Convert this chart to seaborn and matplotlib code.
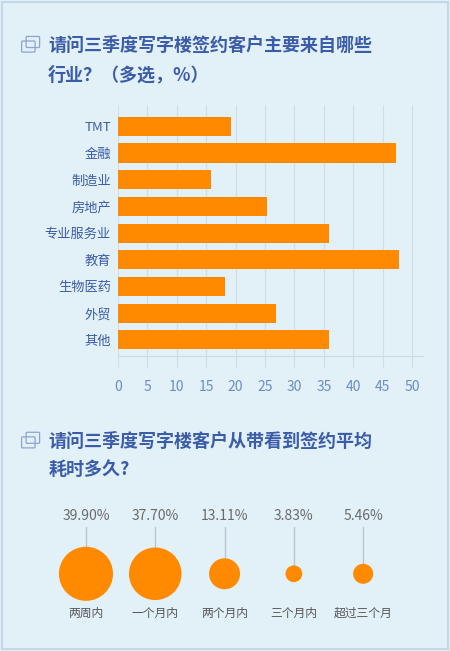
import numpy as np
import pandas as pd
import seaborn as sns
import matplotlib.pyplot as plt
from matplotlib.patches import FancyBboxPatch

industries = ['TMT', '金融', '制造业', '房地产', '专业服务业', '教育', '生物医药', '外贸', '其他']
shares = [19.3, 47.3, 15.9, 25.3, 35.8, 47.8, 18.2, 26.9, 35.8]

periods = ['两周内', '一个月内', '两个月内', '三个月内', '超过三个月']
period_pct = [39.90, 37.70, 13.11, 3.83, 5.46]

BG = '#e2f0f8'
BLUE = '#3b5ca8'
ORANGE = '#ff8a00'

sns.set_theme(style='white')
plt.rcParams['font.family'] = ['Noto Sans CJK SC', 'DejaVu Sans']

fig = plt.figure(figsize=(4.5, 6.51), dpi=100, facecolor=BG)
fig.patches.append(plt.Rectangle((0.004, 0.003), 0.992, 0.994, transform=fig.transFigure,
                                 fill=False, edgecolor='#c5d8e6', lw=1.5))

def icon(x, y):
    fig.patches.append(FancyBboxPatch((x, y), 0.026, 0.013, boxstyle='round,pad=0.002',
                                      transform=fig.transFigure, fill=False, ec='#8fa3cf', lw=0.9))
    fig.patches.append(FancyBboxPatch((x + 0.01, y + 0.007), 0.026, 0.013, boxstyle='round,pad=0.002',
                                      transform=fig.transFigure, fill=False, ec='#8fa3cf', lw=0.9))

icon(0.05, 0.922)
fig.text(0.107, 0.93, '请问三季度写字楼签约客户主要来自哪些', color=BLUE, fontsize=13,
         fontweight='bold', va='center')
fig.text(0.107, 0.885, '行业？（多选，%）', color=BLUE, fontsize=13, fontweight='bold', va='center')

# bar chart
ax = fig.add_axes([0.262, 0.435, 0.68, 0.404])
ax.set_facecolor(BG)
df = pd.DataFrame({'industry': industries, 'share': shares})
sns.barplot(data=df, y='industry', x='share', color=ORANGE, saturation=1, width=0.72,
            linewidth=0, ax=ax)
ax.set_xlim(0, 52)
ax.set_xticks(range(0, 51, 5))
ax.grid(axis='x', color='#d3dde6', lw=0.8)
ax.set_axisbelow(True)
for s in ax.spines.values():
    s.set_visible(False)
ax.axhline(len(industries) - 0.4, color='#cfd9e2', lw=0.8)
ax.set_xlabel('')
ax.set_ylabel('')
ax.tick_params(axis='y', length=0, labelsize=9.5, labelcolor=BLUE, pad=5)
ax.tick_params(axis='x', length=0, labelsize=10, labelcolor='#6c8cc4', pad=9)

icon(0.05, 0.314)
fig.text(0.107, 0.322, '请问三季度写字楼客户从带看到签约平均', color=BLUE, fontsize=13,
         fontweight='bold', va='center')
fig.text(0.107, 0.279, '耗时多久?', color=BLUE, fontsize=13, fontweight='bold', va='center')

# bubble row
bx = fig.add_axes([0.114, 0.03, 0.77, 0.2])
bx.set_facecolor(BG)
bx.axis('off')
xs = np.arange(len(periods))
for i, v in enumerate(period_pct):
    bx.plot([i, i], [0.443, 0.8], color='#b9c6d0', lw=1, zorder=1)
    bx.text(i, 0.885, f'{v:.2f}%', ha='center', va='center', fontsize=10, color='#6b6b6b')
    bx.text(i, 0.137, periods[i], ha='center', va='center', fontsize=8.5, color='#555555')
sns.scatterplot(x=xs, y=[0.443] * len(xs), s=np.array(period_pct) * 38, color=ORANGE,
                linewidth=0, ax=bx, zorder=2, legend=False)
bx.set_xlim(-0.5, 4.5)
bx.set_ylim(0, 1)

fig.savefig('out.png', dpi=100, facecolor=BG)
